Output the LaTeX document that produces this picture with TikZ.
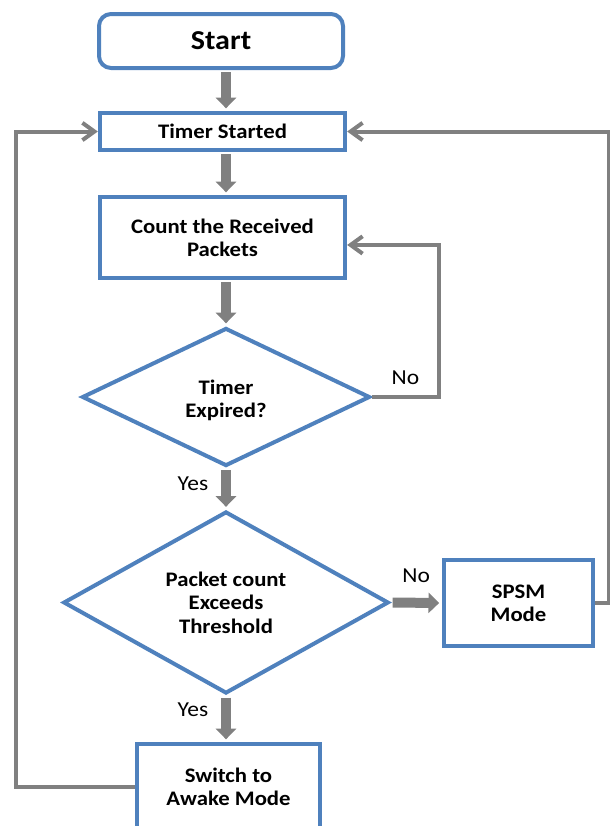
\documentclass[tikz,border=0pt]{standalone}
\usepackage{fontspec}
\setmainfont{Carlito}[FakeStretch=1.1]
\usetikzlibrary{shapes.geometric, positioning, arrows.meta}
\definecolor{boxblue}{RGB}{79,129,189}
\definecolor{flowgray}{RGB}{128,128,128}

\begin{document}
\begin{tikzpicture}[x=0.75pt, y=-0.75pt,
	box/.style={draw=boxblue, line width=3pt, fill=white, align=center, inner sep=2pt,
		font=\bfseries\fontsize{15.5}{17.5}\selectfont},
	decision/.style={box, diamond, inner sep=0pt},
	flow/.style={draw=flowgray, line width=7.5pt, -{Triangle[length=8pt, width=15pt]},
		shorten <=1.5pt, shorten >=2pt},
	back/.style={draw=flowgray, line width=3pt, -{Straight Barb[length=9pt, width=13pt]}},
	answer/.style={font=\fontsize{16}{18}\selectfont, inner sep=1pt}
]
	\useasboundingbox (0,0) rectangle (610,826);

	\node[box, rounded corners=9pt, minimum width=183pt, minimum height=40.5pt,
		font=\bfseries\fontsize{20.5}{23}\selectfont] (start) at (221,41) {Start};
	\node[box, minimum width=184pt, minimum height=27.75pt] (timer) at (222.5,131.5) {Timer Started};
	\node[box, minimum width=184pt, minimum height=60.75pt] (count) at (222.5,237.5) {Count the Received\\Packets};
	\node[decision, minimum width=216pt, minimum height=103.5pt, text height=33pt] (expired) at (226,397) {Timer\\Expired?};
	\node[decision, minimum width=244pt, minimum height=136pt] (exceeds) at (226,602.5) {Packet count\\Exceeds\\Threshold};
	\node[box, minimum width=112pt, minimum height=64.5pt] (spsm) at (518.5,603) {SPSM\\Mode};
	\node[box, minimum width=137pt, minimum height=64.5pt] (awake) at (228.5,787) {Switch to\\Awake Mode};

	% main column
	\draw[flow] (start.south -| expired) -- (timer.north -| expired);
	\draw[flow] (timer.south -| expired) -- (count.north -| expired);
	\draw[flow] (count.south -| expired) -- (expired.north);
	\draw[flow] (expired.south) -- node[answer, left=8.5pt, pos=0.37] (yes1) {Yes} (exceeds.north);
	\draw[flow] (exceeds.south) -- node[answer, left=8.5pt, pos=0.3] (yes2) {Yes} (exceeds.south |- awake.north);
	\draw[flow] (exceeds.east) -- node[answer, above=10pt] (no2) {No} (spsm.west);

	% feedback lines
	\draw[back] (expired.east) -- node[answer, above=7pt] (no1) {No} ++(67,0) |- ([yshift=-5.6pt]count.east);
	\draw[back] (spsm.east) -- ++(14,0) |- (timer.east);
	\draw[back] (awake.west) -- ++(-119,0) |- (timer.west);
\end{tikzpicture}
\end{document}
